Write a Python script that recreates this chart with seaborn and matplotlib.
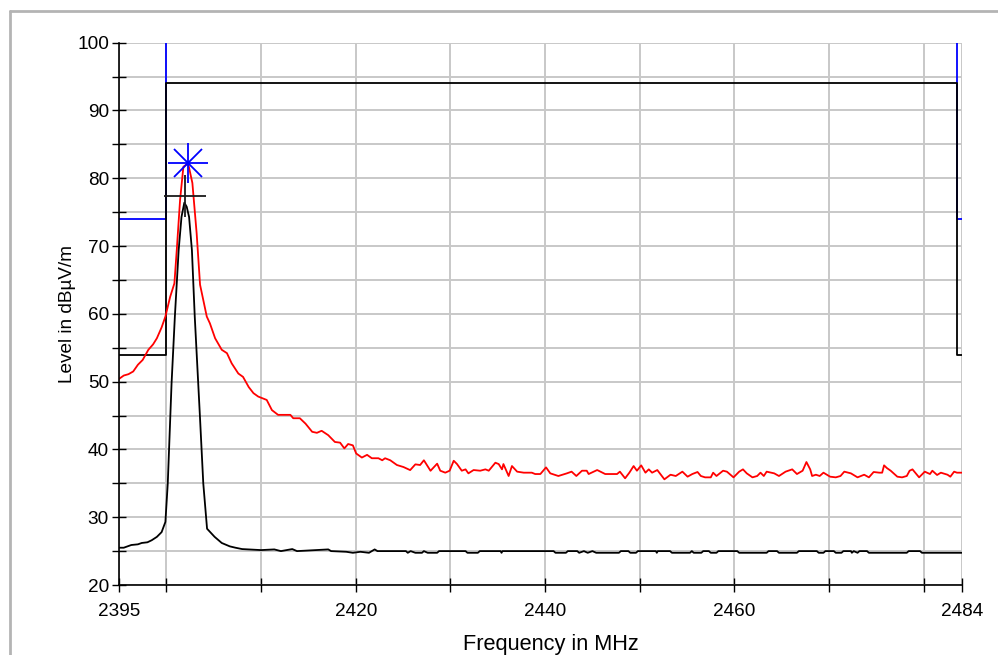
import matplotlib
matplotlib.use('Agg')
import matplotlib.pyplot as plt
from matplotlib.lines import Line2D
import seaborn as sns

# peak trace (red)
peak_f = [2395.0, 2395.5, 2396.0, 2396.5, 2397.0, 2397.5, 2398.1, 2398.6, 2399.0, 2399.5,
          2399.9, 2400.4, 2400.85, 2401.1, 2401.45, 2401.8, 2402.3, 2402.75, 2403.2, 2403.56,
          2404.27, 2404.6, 2405.15, 2405.85, 2406.4, 2406.9, 2407.6, 2408.1, 2408.7, 2409.2,
          2409.7, 2410.6, 2411.15, 2411.8, 2413.1, 2413.4, 2414.1, 2414.7, 2415.4, 2415.9,
          2416.4, 2417.1, 2417.8, 2418.35, 2418.8, 2419.2, 2419.7, 2420.05, 2420.65, 2421.2,
          2421.7, 2422.4, 2422.8, 2423.1, 2423.65, 2424.35, 2425.05, 2425.75, 2426.3, 2426.8,
          2427.2, 2427.9, 2428.6, 2428.93, 2429.46, 2429.92, 2430.35, 2430.7, 2431.2, 2431.6,
          2431.9, 2432.45, 2433.15, 2433.7, 2434.05, 2434.75, 2435.1, 2435.45, 2435.6, 2436.15,
          2436.5, 2437.05, 2437.75, 2438.6, 2438.95, 2439.5, 2440.1, 2440.55, 2441.4, 2442.3,
          2442.8, 2443.3, 2443.9, 2444.4, 2444.6, 2445.5, 2446.35, 2447.6, 2447.9, 2448.45,
          2448.9, 2449.35, 2449.7, 2450.15, 2450.6, 2450.95, 2451.3, 2451.85, 2452.6, 2453.25,
          2453.8, 2454.5, 2455.05, 2455.55, 2456.1, 2456.45, 2456.9, 2457.5, 2457.75, 2458.1,
          2458.8, 2459.2, 2459.9, 2460.5, 2460.9, 2461.3, 2461.9, 2462.4, 2462.75, 2463.1,
          2463.4, 2464.2, 2464.7, 2465.4, 2466.1, 2466.6, 2467.2, 2467.6, 2468.0, 2468.2,
          2468.6, 2469.0, 2469.4, 2470.1, 2470.7, 2471.2, 2471.6, 2472.3, 2473.0, 2473.7,
          2474.2, 2474.7, 2475.3, 2475.6, 2475.8, 2476.1, 2476.5, 2477.2, 2477.7, 2478.2,
          2478.5, 2478.8, 2479.5, 2480.1, 2480.65, 2480.9, 2481.4, 2481.8, 2482.5, 2482.8,
          2483.2, 2483.5, 2484.0]
peak_db = [50.4, 50.9, 51.1, 51.5, 52.5, 53.2, 54.7, 55.5, 56.4, 58.0,
           59.6, 62.5, 64.5, 69.4, 76.8, 81.7, 82.2, 79.3, 71.9, 64.3,
           59.6, 58.6, 56.4, 54.7, 54.2, 52.7, 51.2, 50.7, 49.2, 48.3,
           47.8, 47.3, 45.8, 45.1, 45.1, 44.6, 44.6, 43.8, 42.6, 42.45,
           42.75, 42.1, 41.1, 41.0, 40.15, 40.8, 40.6, 39.4, 38.8, 39.2,
           38.7, 38.7, 38.4, 38.7, 38.4, 37.7, 37.4, 36.95, 37.8, 37.7,
           38.4, 36.85, 37.9, 36.86, 36.57, 36.86, 38.33, 37.84, 36.86, 37.06,
           36.47, 36.96, 36.86, 37.06, 36.86, 38.04, 37.84, 37.06, 37.84, 36.08,
           37.55, 36.72, 36.57, 36.57, 36.37, 36.37, 37.35, 36.47, 36.08, 36.47,
           36.72, 36.08, 36.86, 36.86, 36.37, 36.96, 36.37, 36.37, 36.72, 35.74,
           36.57, 37.55, 36.86, 37.65, 36.57, 37.06, 36.57, 36.96, 35.59, 36.27,
           36.08, 36.72, 35.98, 36.37, 36.67, 36.08, 35.88, 35.88, 36.57, 36.08,
           36.86, 36.72, 35.88, 36.72, 37.06, 36.47, 35.88, 36.08, 36.57, 36.08,
           36.72, 36.47, 36.08, 36.72, 37.06, 36.37, 36.86, 38.14, 37.06, 36.08,
           36.27, 36.08, 36.57, 35.98, 35.88, 36.08, 36.72, 36.47, 35.88, 36.27,
           35.88, 36.67, 36.57, 36.57, 37.65, 37.25, 36.86, 35.98, 35.88, 36.08,
           36.86, 37.06, 35.88, 36.72, 36.37, 36.86, 36.23, 36.57, 36.27, 35.98,
           36.72, 36.57, 36.57]

# average trace (black)
avg_f = [2395.0, 2395.5, 2396.3, 2397.0, 2397.4, 2398.0, 2398.45, 2399.0, 2399.5, 2399.9,
         2400.15, 2400.55, 2400.9, 2401.3, 2401.6, 2401.9, 2402.15, 2402.4, 2402.7, 2403.0,
         2403.55, 2403.9, 2404.3, 2404.7, 2405.1, 2405.85, 2406.7, 2407.3, 2408.0, 2410.0,
         2411.4, 2412.1, 2413.3, 2413.8, 2417.1, 2417.4, 2419.0, 2419.7, 2420.5, 2421.4,
         2422.0, 2422.3, 2425.3, 2425.5, 2425.8, 2426.3, 2427.0, 2427.2, 2427.6, 2428.6,
         2428.8, 2431.6, 2431.8, 2432.9, 2433.1, 2435.3, 2435.4, 2435.5, 2440.9, 2441.1,
         2442.2, 2442.4, 2443.4, 2443.6, 2444.1, 2444.5, 2445.0, 2445.4, 2447.8, 2448.0,
         2448.8, 2449.0, 2449.6, 2449.8, 2451.7, 2451.8, 2451.9, 2453.2, 2453.4, 2455.3,
         2455.5, 2455.7, 2456.5, 2456.7, 2457.3, 2457.5, 2458.1, 2458.3, 2460.3, 2460.5,
         2463.4, 2463.6, 2464.5, 2464.7, 2466.6, 2466.8, 2468.7, 2468.9, 2469.4, 2469.6,
         2470.5, 2470.7, 2471.3, 2471.5, 2472.3, 2472.4, 2472.6, 2473.0, 2473.2, 2474.0,
         2474.2, 2478.2, 2478.4, 2479.6, 2479.8, 2484.0]
avg_db = [25.5, 25.5, 25.9, 26.0, 26.2, 26.3, 26.6, 27.1, 27.8, 29.3,
          35.0, 49.7, 59.6, 69.4, 74.3, 76.4, 75.8, 74.3, 69.4, 59.6,
          44.8, 35.0, 28.3, 27.7, 27.1, 26.2, 25.7, 25.5, 25.3, 25.15,
          25.25, 25.0, 25.3, 25.0, 25.25, 25.0, 24.9, 24.75, 24.9, 24.75,
          25.25, 25.0, 25.0, 24.75, 25.0, 24.75, 24.75, 25.0, 24.75, 24.75,
          25.0, 25.0, 24.75, 24.75, 25.0, 25.0, 24.75, 25.0, 25.0, 24.75,
          24.75, 25.0, 25.0, 24.75, 25.0, 24.75, 25.0, 24.75, 24.75, 25.0,
          25.0, 24.75, 24.75, 25.0, 25.0, 24.75, 25.0, 25.0, 24.75, 24.75,
          25.0, 24.75, 24.75, 25.0, 25.0, 24.75, 24.75, 25.0, 25.0, 24.75,
          24.75, 25.0, 25.0, 24.75, 24.75, 25.0, 25.0, 24.75, 24.75, 25.0,
          25.0, 24.75, 24.75, 25.0, 25.0, 24.75, 25.0, 24.75, 25.0, 25.0,
          24.75, 24.75, 25.0, 25.0, 24.75, 24.75]

# limit lines
peak_lim_left_f = [2395, 2400, 2400]
peak_lim_left_db = [74, 74, 100]
peak_lim_right_f = [2483.5, 2483.5, 2484]
peak_lim_right_db = [100, 74, 74]
avg_lim_f = [2395, 2400, 2400, 2483.5, 2483.5, 2484]
avg_lim_db = [54, 54, 94, 94, 54, 54]

# markers
peak_mark = (2402.3, 82.2)
avg_mark = (2402.0, 77.4)

x_ticks = [2395, 2400, 2410, 2420, 2430, 2440, 2450, 2460, 2470, 2480, 2484]
x_labels = ['2395', '', '', '2420', '', '2440', '', '2460', '', '', '2484']
y_ticks = [20, 25, 30, 35, 40, 45, 50, 55, 60, 65, 70, 75, 80, 85, 90, 95, 100]
y_labels = ['20', '', '30', '', '40', '', '50', '', '60', '', '70', '', '80', '', '90', '', '100']

sns.set_style('white')
plt.rcParams['font.family'] = ['Liberation Sans', 'DejaVu Sans']

fig = plt.figure(figsize=(9.98, 6.55), dpi=100)
ax = fig.add_axes([0.11924, 0.10687, 0.84439, 0.82794])

lw = 1.3
sns.lineplot(x=peak_lim_left_f, y=peak_lim_left_db, ax=ax, color='blue', lw=lw,
             estimator=None, sort=False)
sns.lineplot(x=peak_lim_right_f, y=peak_lim_right_db, ax=ax, color='blue', lw=lw,
             estimator=None, sort=False)
sns.lineplot(x=avg_lim_f, y=avg_lim_db, ax=ax, color='black', lw=lw,
             estimator=None, sort=False)
sns.lineplot(x=peak_f, y=peak_db, ax=ax, color='red', lw=lw, estimator=None, sort=False)
sns.lineplot(x=avg_f, y=avg_db, ax=ax, color='black', lw=lw, estimator=None, sort=False)

ax.plot([peak_mark[0]], [peak_mark[1]], marker='+', ms=29, mew=1.3, color='blue', ls='none')
ax.plot([peak_mark[0]], [peak_mark[1]], marker='x', ms=20, mew=1.3, color='blue', ls='none')
ax.plot([avg_mark[0]], [avg_mark[1]], marker='+', ms=30, mew=1.3, color='#1a1a1a', ls='none')

ax.set_xlim(2395, 2484)
ax.set_ylim(20, 100)
ax.set_xticks(x_ticks)
ax.set_xticklabels(x_labels)
ax.set_yticks(y_ticks)
ax.set_yticklabels(y_labels)
ax.tick_params(axis='both', direction='inout', length=10.5, width=1.0, color='black',
               labelsize=13.7, labelcolor='black', bottom=True, left=True)
ax.tick_params(axis='x', pad=7.5)
ax.tick_params(axis='y', pad=2)
ax.grid(True, color='#c8c8c8', lw=1.4)
ax.set_axisbelow(True)

for s in ['top', 'right']:
    ax.spines[s].set_visible(False)
for s in ['left', 'bottom']:
    ax.spines[s].set_color('black')
    ax.spines[s].set_linewidth(1.2)
    ax.spines[s].set_zorder(5)

ax.set_xlabel('Frequency in MHz', fontsize=15.7, labelpad=10, color='black')
ax.xaxis.label.set_x(0.512)
ax.set_ylabel('Level in dBµV/m', fontsize=13.7, labelpad=1, color='black')

# outer frame
fig.add_artist(Line2D([0.0100, 1.0], [0.9832, 0.9832], transform=fig.transFigure,
                      color='#b4b4b4', lw=2.0))
fig.add_artist(Line2D([0.0100, 0.0100], [0.0, 0.9832], transform=fig.transFigure,
                      color='#b4b4b4', lw=2.0))

fig.savefig('out.png', dpi=100)
